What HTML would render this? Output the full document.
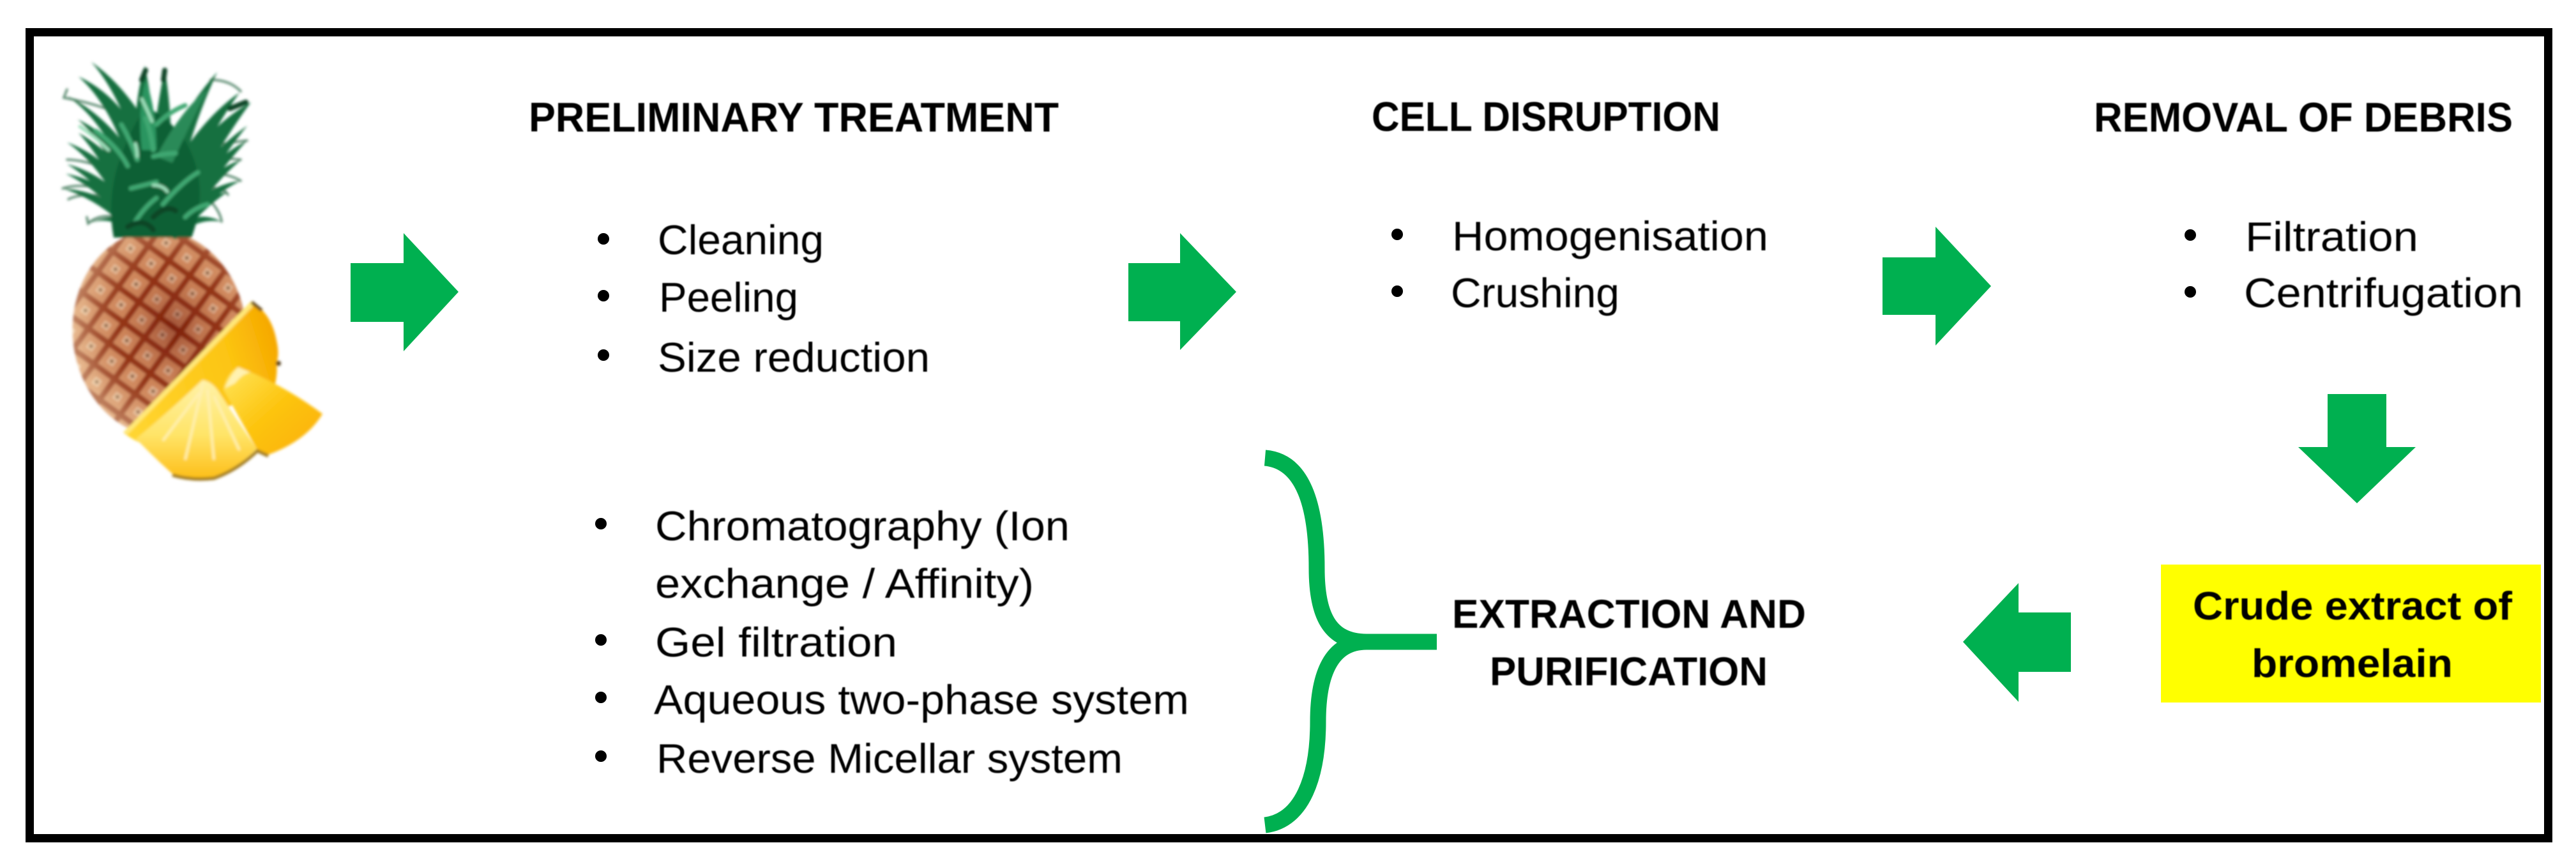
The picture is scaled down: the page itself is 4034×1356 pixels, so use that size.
<!DOCTYPE html>
<html><head><meta charset="utf-8"><style>
html,body{margin:0;padding:0;background:#fff;width:4034px;height:1356px;overflow:hidden}
svg{display:block}
text{font-family:"Liberation Sans",sans-serif;fill:#000}
.b{font-weight:bold}
</style></head><body>
<svg xmlns="http://www.w3.org/2000/svg" width="4034" height="1356" viewBox="0 0 4034 1356">
<defs>
<linearGradient id="y1" x1="0" y1="0.6" x2="1" y2="0.3"><stop offset="0" stop-color="#ffd530"/><stop offset=".7" stop-color="#fcc411"/><stop offset="1" stop-color="#f6a800"/></linearGradient>
<linearGradient id="y2" x1="0.5" y1="0" x2="0.5" y2="1"><stop offset="0" stop-color="#fff2a8"/><stop offset=".55" stop-color="#ffe468"/><stop offset="1" stop-color="#fdbe18"/></linearGradient>
<linearGradient id="y3" x1="0" y1="0" x2="1" y2="1"><stop offset="0" stop-color="#ffe65c"/><stop offset=".5" stop-color="#fdc40e"/><stop offset="1" stop-color="#fbae06"/></linearGradient>
<radialGradient id="shade" cx="58%" cy="48%" r="55%"><stop offset="0" stop-color="#6a1004" stop-opacity=".5"/><stop offset=".55" stop-color="#a84820" stop-opacity=".22"/><stop offset="1" stop-color="#f4d8b0" stop-opacity=".45"/></radialGradient>
<pattern id="scales" width="40" height="40" patternUnits="userSpaceOnUse" patternTransform="rotate(42)">
<rect width="40" height="40" fill="#d8966a"/>
<rect x="0" y="0" width="40" height="40" fill="none" stroke="#8e2f14" stroke-width="9"/>
<rect x="14" y="14" width="12" height="12" fill="#f2d4b4"/>
<circle cx="20" cy="20" r="3" fill="#705030"/>
</pattern>
<filter id="bl" x="-10%" y="-10%" width="120%" height="120%"><feGaussianBlur stdDeviation="2"/></filter>
<filter id="tb" x="-2%" y="-10%" width="104%" height="120%"><feGaussianBlur stdDeviation="0.8"/></filter>
</defs>
<rect width="4034" height="1356" fill="#fff"/>
<rect x="46.5" y="50.5" width="3944" height="1262" fill="#fff" stroke="#000" stroke-width="13"/>

<!-- pineapple -->
<g filter="url(#bl)">
<g transform="rotate(-6 250 522)">
<ellipse cx="250" cy="522" rx="136" ry="162" fill="url(#scales)"/>
<ellipse cx="250" cy="522" rx="136" ry="162" fill="url(#shade)"/>
</g>
<!-- wisps -->
<g fill="none" stroke="#5a8a70" stroke-width="3.5" stroke-linecap="round">
<path d="M180 175Q140 160 100 153L105 140"/><path d="M170 265Q130 250 105 250"/><path d="M175 300Q130 285 98 295"/><path d="M180 310Q130 300 107 312"/>
<path d="M290 240Q340 225 387 220"/><path d="M290 255Q340 245 377 250"/><path d="M300 275Q345 265 377 283"/><path d="M300 295Q350 290 357 305"/><path d="M325 310Q345 330 347 347"/>
<path d="M200 345Q160 330 138 350L136 340"/><path d="M330 125Q360 125 377 143"/>
</g>
<!-- outer blades -->
<g fill="#17703f">
<path d="M222 260Q190 150 143 97Q205 140 252 235Z"/>
<path d="M212 290Q180 170 123 120Q200 155 240 260Z"/>
<path d="M205 300Q170 195 105 150Q185 190 235 290Z"/>
<path d="M205 340Q180 240 122 187Q200 225 240 320Z"/>
<path d="M205 350Q170 260 123 208Q190 245 240 340Z"/>
<path d="M200 350Q160 260 105 223Q180 250 235 345Z"/>
<path d="M205 360Q160 290 105 257Q175 275 235 355Z"/>
<path d="M205 360Q160 300 103 272Q175 285 235 360Z"/>
<path d="M205 365Q160 315 98 295Q175 300 235 365Z"/>
<path d="M215 370Q175 335 138 350Q190 325 240 365Z"/>
<path d="M215 270Q205 170 227 103Q240 170 250 260Z"/>
<path d="M235 260Q245 170 258 107Q270 180 268 260Z"/>
<path d="M240 280Q280 180 340 113Q300 200 280 290Z"/>
<path d="M255 290Q310 190 375 145Q325 215 290 300Z"/>
<path d="M250 310Q320 200 393 160Q345 225 295 320Z"/>
<path d="M260 330Q325 240 387 197Q340 255 290 345Z"/>
<path d="M255 345Q320 255 387 220Q340 270 285 355Z"/>
<path d="M255 350Q320 270 378 250Q335 285 285 360Z"/>
<path d="M255 355Q320 290 377 283Q330 305 285 365Z"/>
<path d="M250 365Q310 310 357 300Q320 325 280 372Z"/>
<path d="M255 365Q305 325 347 347Q305 340 275 375Z"/>
</g>
<!-- central mass -->
<path d="M178 372Q165 300 195 230Q215 180 232 170Q260 180 290 220Q330 290 300 372Z" fill="#116136"/>
<path d="M222 235Q215 175 228 125Q245 170 245 235Z" fill="#2b9560"/>
<path d="M245 245Q285 170 325 140Q295 200 270 255Z" fill="#2b8a58"/>
<!-- highlights -->
<g fill="none" stroke-linecap="round">
<g stroke="#3fa872" stroke-width="7">
<path d="M228 185Q236 205 240 235"/><path d="M215 250Q205 220 190 195"/><path d="M150 205Q185 230 200 260"/><path d="M255 320Q285 285 310 270"/><path d="M205 295Q225 290 245 285"/><path d="M240 245Q260 240 275 240"/><path d="M210 350Q225 325 245 310"/><path d="M290 340Q305 325 325 320"/><path d="M245 195Q265 175 290 165"/>
</g>
<g stroke="#9fe0bc" stroke-width="5">
<path d="M222 155Q232 175 238 190"/><path d="M212 225Q215 235 215 245"/><path d="M240 290Q255 290 262 300"/><path d="M125 198Q150 215 170 235"/>
</g>
<g stroke="#0a4526" stroke-width="8">
<path d="M228 110L222 125"/><path d="M258 110L256 125"/><path d="M200 355Q225 340 240 360"/><path d="M385 160L360 170"/><path d="M240 340Q260 320 275 330"/>
</g>
</g>
<!-- slices -->
<path d="M193 677L393 472Q425 490 433 533Q438 555 433 568Q435 585 430 605L350 640L240 700Q210 692 193 677Z" fill="url(#y1)"/>
<path d="M193 677L393 472L396 480L200 680Z" fill="#ffe878"/>
<path d="M394 473L410 486" stroke="#6a5020" stroke-width="5"/><circle cx="436" cy="569" r="4" fill="#5a4520"/>
<path d="M373 575Q355 585 350 610L402 703L420 712Q480 690 505 648Q440 600 373 575Z" fill="url(#y3)"/>
<path d="M373 575Q360 588 352 608L368 600Q380 585 392 583Z" fill="#fff2b0"/>
<path d="M317 595Q330 597 340 610L402 703Q370 735 333 747Q300 755 270 742Q240 715 213 687Q270 640 317 595Z" fill="url(#y2)"/>
<g stroke="#fff0b0" stroke-width="4" fill="none"><path d="M318 600L290 720"/><path d="M325 610L335 720"/><path d="M312 615L255 690"/><path d="M335 620L375 705"/></g>
<path d="M270 744Q300 753 335 749Q372 736 403 706L420 714" fill="none" stroke="#a07a20" stroke-width="5"/>
</g>

<!-- arrows -->
<g fill="#00B050">
<polygon points="549,412 632,412 632,365 718,457 632,550 632,504 549,504"/>
<polygon points="1767,412 1848,412 1848,365 1936,457 1848,548 1848,503 1767,503"/>
<polygon points="2948,403 3031,403 3031,355 3118,448 3031,541 3031,493 2948,493"/>
<polygon points="3645,617 3737,617 3737,700 3783,700 3691,788 3599,700 3645,700"/>
<polygon points="3243,959 3161,959 3161,913 3074,1005 3161,1099 3161,1052 3243,1052"/>
</g>

<!-- brace -->
<g fill="none" stroke="#00B050" stroke-width="25">
<path d="M1981 717C2040 722 2062 790 2062 890C2062 960 2080 1005 2140 1005L2250 1005"/>
<path d="M2140 1005C2085 1005 2064 1055 2064 1130C2064 1215 2040 1285 1981 1292"/>
</g>

<!-- yellow box -->
<rect x="3384" y="884" width="595" height="216" fill="#FFFF00"/>

<g filter="url(#tb)">
<!-- headings -->
<g font-size="65">
<text class="b" x="828" y="206" textLength="830" lengthAdjust="spacingAndGlyphs">PRELIMINARY TREATMENT</text>
<text class="b" x="2148" y="205" textLength="546" lengthAdjust="spacingAndGlyphs">CELL DISRUPTION</text>
<text class="b" x="3279" y="206" textLength="656" lengthAdjust="spacingAndGlyphs">REMOVAL OF DEBRIS</text>
<text class="b" x="2274" y="983" font-size="63" textLength="554" lengthAdjust="spacingAndGlyphs">EXTRACTION AND</text>
<text class="b" x="2333" y="1073" font-size="63" textLength="435" lengthAdjust="spacingAndGlyphs">PURIFICATION</text>
<text class="b" x="3434" y="970" font-size="62" textLength="500" lengthAdjust="spacingAndGlyphs">Crude extract of</text>
<text class="b" x="3526" y="1060" font-size="62" textLength="315" lengthAdjust="spacingAndGlyphs">bromelain</text>
</g>

<!-- list items -->
<g font-size="65">
<text x="1030" y="398" textLength="260" lengthAdjust="spacingAndGlyphs">Cleaning</text>
<text x="1032" y="488" textLength="218" lengthAdjust="spacingAndGlyphs">Peeling</text>
<text x="1030" y="582" textLength="426" lengthAdjust="spacingAndGlyphs">Size reduction</text>
<text x="2274" y="392" textLength="495" lengthAdjust="spacingAndGlyphs">Homogenisation</text>
<text x="2272" y="481" textLength="264" lengthAdjust="spacingAndGlyphs">Crushing</text>
<text x="3516" y="393" textLength="271" lengthAdjust="spacingAndGlyphs">Filtration</text>
<text x="3514" y="481" textLength="437" lengthAdjust="spacingAndGlyphs">Centrifugation</text>
<text x="1026" y="846" textLength="649" lengthAdjust="spacingAndGlyphs">Chromatography (Ion</text>
<text x="1026" y="936" textLength="593" lengthAdjust="spacingAndGlyphs">exchange / Affinity)</text>
<text x="1026" y="1028" textLength="379" lengthAdjust="spacingAndGlyphs">Gel filtration</text>
<text x="1024" y="1118" textLength="838" lengthAdjust="spacingAndGlyphs">Aqueous two-phase system</text>
<text x="1028" y="1210" textLength="730" lengthAdjust="spacingAndGlyphs">Reverse Micellar system</text>
</g>
</g>

<!-- bullets -->
<g fill="#000">
<circle cx="945" cy="374" r="9"/><circle cx="945" cy="463" r="9"/><circle cx="945" cy="556" r="9"/>
<circle cx="2188" cy="367" r="9"/><circle cx="2188" cy="456" r="9"/>
<circle cx="3430" cy="368" r="9"/><circle cx="3430" cy="457" r="9"/>
<circle cx="941" cy="820" r="9"/><circle cx="941" cy="1002" r="9"/><circle cx="941" cy="1092" r="9"/><circle cx="941" cy="1184" r="9"/>
</g>
</svg>
</body></html>
